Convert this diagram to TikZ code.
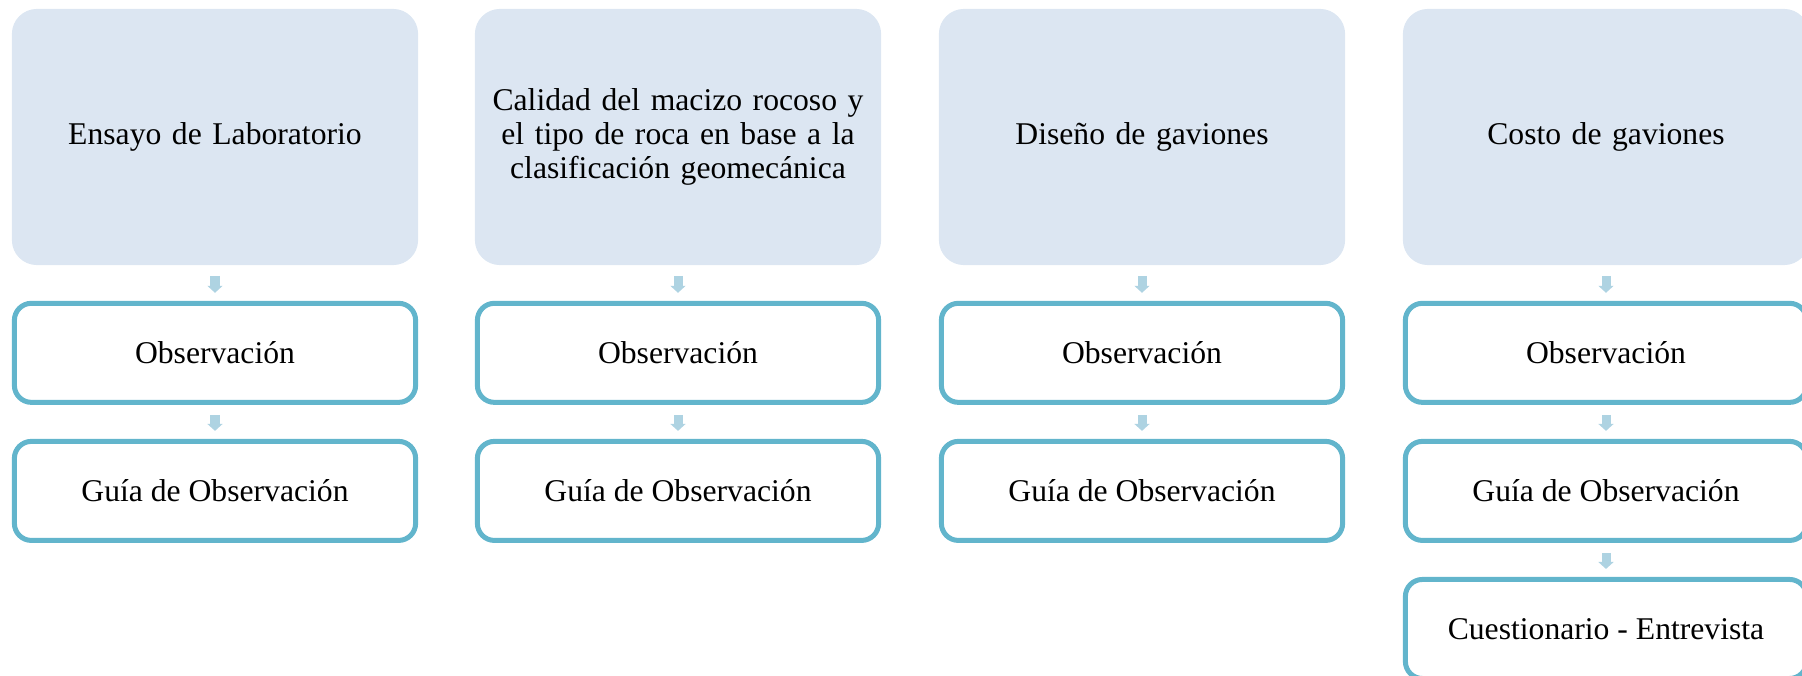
\documentclass[tikz,border=0pt]{standalone}
\usepackage{fontspec}
\setmainfont{Liberation Serif}
\usepackage{tikz}
\usetikzlibrary{positioning,arrows.meta}
\definecolor{cabecera}{HTML}{DCE6F2}
\definecolor{borde}{HTML}{62B5CC}
\definecolor{azulflecha}{HTML}{AED3E2}

\begin{document}
\begin{tikzpicture}[x=0.01cm,y=0.01cm,
    cab/.style={fill=cabecera, rounded corners=0.25cm, minimum width=4.06cm, minimum height=2.56cm,
        inner xsep=0pt, text width=4.0cm, align=center, font=\fontsize{9}{9.6}\selectfont},
    caja/.style={draw=borde, line width=0.05cm, fill=white, rounded corners=0.17cm, minimum width=4.01cm,
        minimum height=0.99cm, align=center, font=\fontsize{9}{9.6}\selectfont},
    flecha/.style={draw=azulflecha, line width=0.09cm, -{Triangle[length=0.07cm,width=0.15cm]},
        shorten <=0.1cm, shorten >=0.08cm}]
    \useasboundingbox (0,0) rectangle (1802,675);
    \foreach \x/\n/\t in {215/1/{Ensayo de Laboratorio},
        678/2/{Calidad del macizo rocoso y\\el tipo de roca en base a la\\clasificación geomecánica},
        1142/3/{Diseño de gaviones}, 1606/4/{Costo de gaviones}} {
        \node[cab] (cab\n) at (\x,538) {\t};
        \node[caja, below=0.35cm of cab\n] (obs\n) {Observación};
        \node[caja, below=0.34cm of obs\n] (guia\n) {Guía de Observación};
        \draw[flecha] (cab\n) -- (obs\n);
        \draw[flecha] (obs\n) -- (guia\n);
    }
    \node[caja, below=0.34cm of guia4] (cuest) {Cuestionario - Entrevista};
    \draw[flecha] (guia4) -- (cuest);
\end{tikzpicture}
\end{document}
